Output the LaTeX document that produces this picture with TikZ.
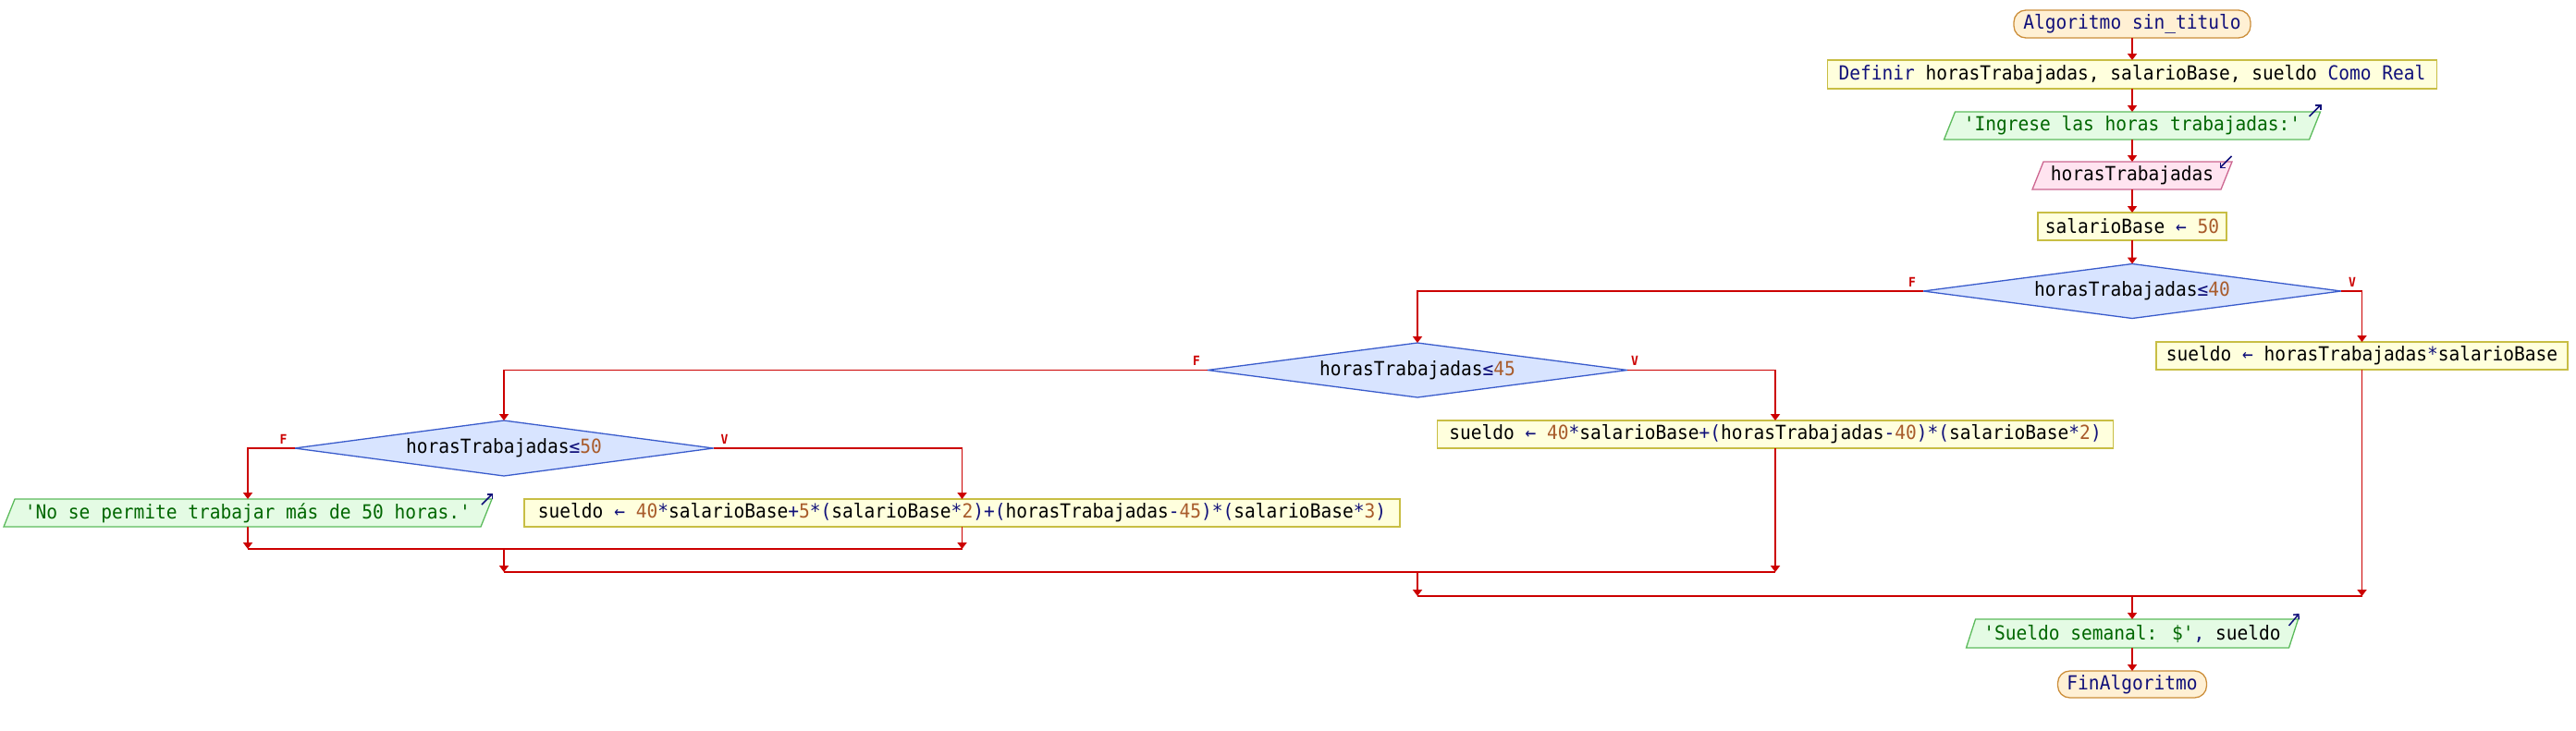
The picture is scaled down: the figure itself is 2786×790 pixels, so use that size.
\documentclass[tikz,border=0pt]{standalone}
\usepackage{fontspec}
\usetikzlibrary{arrows.meta}
\newfontfamily\pse[Ligatures=TeXOff,FakeStretch=0.93]{DejaVu Sans Mono}
\pgfdeclarelayer{bg}
\pgfsetlayers{bg,main}
\definecolor{kw}{HTML}{10107A}
\definecolor{num}{HTML}{A85B2B}
\definecolor{str}{HTML}{006600}
\definecolor{flowred}{HTML}{CC0000}
\definecolor{termfill}{HTML}{FFF0D4}
\definecolor{termdraw}{HTML}{CC8E3A}
\definecolor{procfill}{HTML}{FFFFDD}
\definecolor{procdraw}{HTML}{C8BE44}
\definecolor{outfill}{HTML}{E4FBE4}
\definecolor{outdraw}{HTML}{5CBB5C}
\definecolor{infill}{HTML}{FFE4F0}
\definecolor{indraw}{HTML}{CC6690}
\definecolor{condfill}{HTML}{D8E4FF}
\definecolor{conddraw}{HTML}{3A5CCC}
\newcommand\Kw[1]{\textcolor{kw}{#1}}
\newcommand\Nm[1]{\textcolor{num}{#1}}
\newcommand\St[1]{\textcolor{str}{#1}}
\newcommand\pseparal[3]{\draw[#1] ([xshift=#3]#2.north west) -- ([xshift=#3]#2.north east) -- ([xshift=-#3]#2.south east) -- ([xshift=-#3]#2.south west) -- cycle;}
\begin{document}
\begin{tikzpicture}[x=1pt,y=-1pt,
  base/.style={font=\pse\fontsize{21}{24}\selectfont, inner sep=0pt, outer sep=0pt},
  term/.style={base, draw=termdraw, fill=termfill, rounded corners=13pt, line width=1.3pt},
  proc/.style={base, draw=procdraw, fill=procfill, line width=1.3pt},
  plain/.style={base},
  outshape/.style={draw=outdraw, fill=outfill, line width=1.3pt},
  inshape/.style={draw=indraw, fill=infill, line width=1.3pt},
  condshape/.style={draw=conddraw, fill=condfill, line width=1.3pt},
  line/.style={draw=flowred, line width=1.8pt},
  flow/.style={line, -{Triangle[width=10pt,length=7pt]}},
  lbl/.style={font=\pse\bfseries\fontsize{14}{16}\selectfont, text=flowred, inner sep=0pt},
  iomark/.style={draw=kw, line width=1.5pt, -{Straight Barb[length=4pt,width=8pt]}}
]
\useasboundingbox (0,0) rectangle (2786,790);
% nodes
\node[term]  (start) at (2306,26)    [minimum width=256pt, minimum height=30pt] {\Kw{Algoritmo sin\_titulo}};
\node[proc]  (def)   at (2306,80.5)  [minimum width=659pt, minimum height=31pt] {\Kw{Definir} horasTrabajadas, salarioBase, sueldo \Kw{Como Real}};
\node[plain] (ing)   at (2306,136)   [minimum width=395pt, minimum height=30pt] {\St{'Ingrese las horas trabajadas:'}};
\node[plain] (inp)   at (2306,190)   [minimum width=204pt, minimum height=30pt] {horasTrabajadas};
\node[proc]  (sal)   at (2306,245)   [minimum width=204pt, minimum height=30pt] {salarioBase \Kw{←} \Nm{50}};
\node[plain] (d1)    at (2306,315)   [minimum width=452pt, minimum height=59pt] {horasTrabajadas\Kw{≤}\Nm{40}};
\node[proc]  (b1)    at (2554.5,385) [minimum width=445pt, minimum height=30pt] {sueldo \Kw{←} horasTrabajadas\Kw{*}salarioBase};
\node[plain] (d2)    at (1533,400.5) [minimum width=454pt, minimum height=59pt] {horasTrabajadas\Kw{≤}\Nm{45}};
\node[proc]  (b2)    at (1920,470)   [minimum width=731pt, minimum height=30pt] {sueldo \Kw{←} \Nm{40}\Kw{*}salarioBase\Kw{+(}horasTrabajadas\Kw{-}\Nm{40}\Kw{)*(}salarioBase\Kw{*}\Nm{2}\Kw{)}};
\node[plain] (d3)    at (545,485)    [minimum width=453pt, minimum height=60pt] {horasTrabajadas\Kw{≤}\Nm{50}};
\node[plain] (p3)    at (268,555)    [minimum width=516pt, minimum height=30pt] {\St{'No se permite trabajar más de 50 horas.'}};
\node[proc]  (b3)    at (1040.5,555) [minimum width=947pt, minimum height=30pt] {sueldo \Kw{←} \Nm{40}\Kw{*}salarioBase\Kw{+}\Nm{5}\Kw{*(}salarioBase\Kw{*}\Nm{2}\Kw{)+(}horasTrabajadas\Kw{-}\Nm{45}\Kw{)*(}salarioBase\Kw{*}\Nm{3}\Kw{)}};
\node[plain] (out)   at (2306,685.5) [minimum width=349pt, minimum height=31pt] {\St{'Sueldo semanal: \$'}\Kw{,} sueldo};
\node[term]  (fin)   at (2306,740.5) [minimum width=161pt, minimum height=29pt] {\Kw{FinAlgoritmo}};
% join points
\coordinate (m3) at (545,594);
\coordinate (m2) at (1533,619);
\coordinate (m1) at (2306,645);
% shapes on background
\begin{pgfonlayer}{bg}
\fill[white] (0,0) rectangle (2786,790);
\pseparal{outshape}{ing}{6pt}
\pseparal{inshape}{inp}{6pt}
\pseparal{outshape}{p3}{6pt}
\pseparal{outshape}{out}{5pt}
\draw[condshape] (d1.north) -- (d1.east) -- (d1.south) -- (d1.west) -- cycle;
\draw[condshape] (d2.north) -- (d2.east) -- (d2.south) -- (d2.west) -- cycle;
\draw[condshape] (d3.north) -- (d3.east) -- (d3.south) -- (d3.west) -- cycle;
\end{pgfonlayer}
% io marks
\draw[iomark] ([xshift=-6pt,yshift=-5pt]ing.north east) -- ([xshift=7pt,yshift=8pt]ing.north east);
\draw[iomark] ([xshift=5.5pt,yshift=6pt]inp.north east) -- ([xshift=-7.5pt,yshift=-7pt]inp.north east);
\draw[iomark] ([xshift=-5pt,yshift=-6pt]p3.north east) -- ([xshift=7pt,yshift=6pt]p3.north east);
\draw[iomark] ([xshift=-5pt,yshift=-7pt]out.north east) -- ([xshift=6pt,yshift=6pt]out.north east);
% main chain
\draw[flow] (start) -- (def);
\draw[flow] (def) -- (ing);
\draw[flow] (ing) -- (inp);
\draw[flow] (inp) -- (sal);
\draw[flow] (sal) -- (d1.north);
% branches
\draw[flow] (d1.west) -| (d2.north);
\draw[flow] (d1.east) -| (b1.north);
\draw[flow] (d2.west) -| (d3.north);
\draw[flow] (d2.east) -| (b2.north);
\draw[flow] (d3.west) -| (p3.north);
\draw[flow] (d3.east) -| (b3.north);
% labels
\node[lbl] (f1) at ([xshift=-12pt,yshift=10pt]d1.west) {F};
\node[lbl] (v1) at ([xshift=12pt,yshift=10pt]d1.east) {V};
\node[lbl] (f2) at ([xshift=-12pt,yshift=10pt]d2.west) {F};
\node[lbl] (v2) at ([xshift=8pt,yshift=10pt]d2.east) {V};
\node[lbl] (f3) at ([xshift=-12pt,yshift=10pt]d3.west) {F};
\node[lbl] (v3) at ([xshift=12pt,yshift=10pt]d3.east) {V};
% joins
\draw[flow] (p3.south) -- (p3.south |- m3);
\draw[flow] (b3.south) -- (b3.south |- m3);
\draw[line] (p3.south |- m3) -- (b3.south |- m3);
\draw[flow] (m3) -- (m3 |- m2);
\draw[flow] (b2.south) -- (b2.south |- m2);
\draw[line] (m3 |- m2) -- (b2.south |- m2);
\draw[flow] (m2) -- (m2 |- m1);
\draw[flow] (b1.south) -- (b1.south |- m1);
\draw[line] (m2 |- m1) -- (b1.south |- m1);
\draw[flow] (m1) -- (out.north);
\draw[flow] (out.south) -- (fin.north);
\end{tikzpicture}
\end{document}
